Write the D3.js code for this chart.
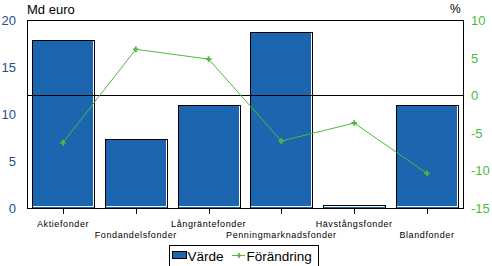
<!DOCTYPE html>
<html>
<head>
<meta charset="utf-8">
<script src="https://cdn.jsdelivr.net/npm/d3@7"></script>
<style>
  body { margin: 0; background: #fff; }
  text { font-family: "Liberation Sans", Arial, sans-serif; }
</style>
</head>
<body>
<svg id="canvas"></svg>
<script>
const categories = ["Aktiefonder", "Fondandelsfonder", "Långräntefonder", "Penningmarknadsfonder", "Hävstångsfonder", "Blandfonder"];
const varde = [17.9, 7.35, 11.0, 18.7, 0.28, 11.0];
const forandring = [-6.3, 6.1, 4.8, -6.1, -3.7, -10.4];
const leftTicks = [0, 5, 10, 15, 20];
const rightTicks = [-15, -10, -5, 0, 5, 10];

const blue = "#1b66ae";
const green = "#4cbb3c";

function getChartConfig() {
  let canvasWidth = 492,
    canvasHeight = 266;
  let margin = { top: 20, right: 29, bottom: 58, left: 27 };
  let width = canvasWidth - margin.left - margin.right;
  let height = canvasHeight - margin.top - margin.bottom;
  let svg = d3.select("#canvas");
  svg.attr("width", canvasWidth).attr("height", canvasHeight);
  return { canvasWidth, canvasHeight, margin, width, height, svg };
}

function getChartScales(config) {
  let { width, height } = config;
  let xScale = d3.scaleBand().domain(categories).range([0, width]).paddingInner(0.15).paddingOuter(0.07);
  let yScale = d3.scaleLinear().domain([0, 20]).range([height, 0]);
  let y2Scale = d3.scaleLinear().domain([-15, 10]).range([height, 0]);
  return { xScale, yScale, y2Scale };
}

function drawChart(scales, config) {
  let { svg, margin, width, height } = config;
  let { xScale, yScale, y2Scale } = scales;
  let g = svg.append("g").attr("transform", `translate(${margin.left},${margin.top})`);

  // bars
  let bars = g.selectAll(".bar").data(categories).enter().append("g");
  bars.append("rect")
    .attr("x", (d) => Math.round(xScale(d)) + 0.5)
    .attr("y", (d, i) => Math.round(yScale(varde[i])) + 0.5)
    .attr("width", Math.round(xScale.bandwidth()))
    .attr("height", (d, i) => height - Math.round(yScale(varde[i])))
    .attr("fill", blue)
    .attr("stroke", "#000")
    .attr("stroke-width", 1);
  // white inner edge right and bottom
  bars.append("path")
    .attr("d", (d, i) => {
      let x1 = Math.round(xScale(d)) + Math.round(xScale.bandwidth()) - 0.5;
      let y0 = Math.round(yScale(varde[i])) + 1;
      return `M${x1},${y0}V${height - 1.5}H${Math.round(xScale(d)) + 1}`;
    })
    .attr("fill", "none")
    .attr("stroke", "#fff")
    .attr("stroke-width", 1);

  // frame
  g.append("rect")
    .attr("x", 0.5).attr("y", 0.5)
    .attr("width", width).attr("height", height)
    .attr("fill", "none").attr("stroke", "#000");

  // zero line of right axis
  g.append("line")
    .attr("x1", 0).attr("x2", width)
    .attr("y1", Math.round(y2Scale(0)) + 0.5).attr("y2", Math.round(y2Scale(0)) + 0.5)
    .attr("stroke", "#000");

  // x ticks
  g.selectAll(".xtick").data(categories).enter().append("line")
    .attr("x1", (d) => Math.round(xScale(d) + xScale.bandwidth() / 2) + 0.5)
    .attr("x2", (d) => Math.round(xScale(d) + xScale.bandwidth() / 2) + 0.5)
    .attr("y1", height).attr("y2", height + 6)
    .attr("stroke", "#000");

  g.selectAll(".xlabel").data(categories).enter().append("text")
    .attr("x", (d) => xScale(d) + xScale.bandwidth() / 2)
    .attr("y", (d, i) => height + (i % 2 === 0 ? 19 : 30))
    .attr("text-anchor", "middle")
    .attr("font-size", 9)
    .attr("letter-spacing", 0.6)
    .attr("fill", "#000")
    .text((d) => d);

  // left ticks
  g.selectAll(".ly").data(leftTicks).enter().append("text")
    .attr("x", -11)
    .attr("y", (d) => yScale(d) + 5)
    .attr("text-anchor", "end")
    .attr("font-size", 13)
    .attr("fill", "#1f4f8c")
    .text((d) => d);

  // right ticks
  g.selectAll(".ry").data(rightTicks).enter().append("text")
    .attr("x", width + 8)
    .attr("y", (d) => y2Scale(d) + 5)
    .attr("text-anchor", "start")
    .attr("font-size", 13)
    .attr("fill", green)
    .text((d) => (d < 0 ? "-" + Math.abs(d) : d));

  svg.append("text").attr("x", 27).attr("y", 14).attr("font-size", 13).text("Md euro");
  svg.append("text").attr("x", 450).attr("y", 13).attr("font-size", 12).text("%");

  // line
  let lineGen = d3.line()
    .x((d, i) => xScale(categories[i]) + xScale.bandwidth() / 2)
    .y((d) => y2Scale(d));
  g.append("path")
    .datum(forandring)
    .attr("d", lineGen)
    .attr("fill", "none")
    .attr("stroke", green)
    .attr("stroke-width", 1);

  let sym = d3.symbol().type(d3.symbolCross).size(18);
  g.selectAll(".pt").data(forandring).enter().append("path")
    .attr("d", sym)
    .attr("transform", (d, i) => `translate(${xScale(categories[i]) + xScale.bandwidth() / 2},${y2Scale(d)})`)
    .attr("fill", green);
}

function drawLegend(config) {
  let { svg } = config;
  let lg = svg.append("g").attr("transform", "translate(169,245)");
  lg.append("rect").attr("x", 0.5).attr("y", 0.5).attr("width", 149).attr("height", 24)
    .attr("fill", "#fff").attr("stroke", "#000");
  lg.append("rect").attr("x", 3.5).attr("y", 6.5).attr("width", 14).attr("height", 7)
    .attr("fill", blue).attr("stroke", "#000");
  lg.append("text").attr("x", 18.5).attr("y", 15.5).attr("font-size", 13.5).text("Värde");
  lg.append("line").attr("x1", 63).attr("x2", 76).attr("y1", 10.5).attr("y2", 10.5)
    .attr("stroke", green);
  lg.append("path").attr("d", d3.symbol().type(d3.symbolCross).size(14))
    .attr("transform", "translate(70,10.5)").attr("fill", green);
  lg.append("text").attr("x", 77.5).attr("y", 15.5).attr("font-size", 13.5).text("Förändring");
}

function showData() {
  let config = getChartConfig();
  let scales = getChartScales(config);
  drawChart(scales, config);
  drawLegend(config);
}

showData();
</script>
</body>
</html>
